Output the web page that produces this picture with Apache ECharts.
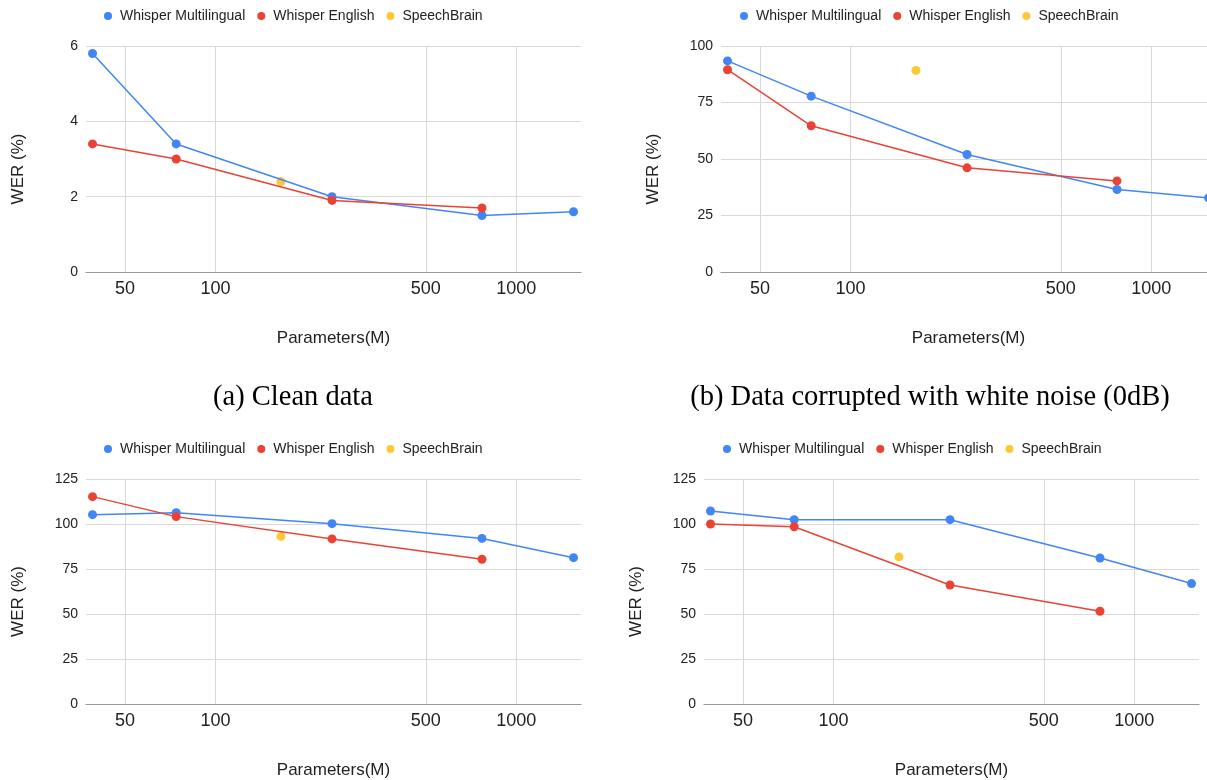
<!DOCTYPE html>
<html>
<head>
<meta charset="utf-8">
<script src="https://cdn.jsdelivr.net/npm/echarts@6/dist/echarts.min.js"></script>
<style>
  html, body { margin: 0; padding: 0; background: #fff; }
  #chart { width: 1207px; height: 780px; }
</style>
</head>
<body>
<div id="chart"></div>
<script>
// Model sizes (M parameters)
const multiParams = [39, 74, 244, 769, 1550];
const englishParams = [39, 74, 244, 769];
const speechBrainParams = [165];
const xTicks = [50, 100, 500, 1000];

// WER (%) per panel
const cleanMulti = [5.8, 3.4, 2.0, 1.5, 1.6];
const cleanEnglish = [3.4, 3.0, 1.9, 1.7];
const cleanSpeechBrain = [2.4];

const whiteMulti = [93.4, 77.8, 52.0, 36.5, 32.8];
const whiteEnglish = [89.5, 64.7, 46.1, 40.3];
const whiteSpeechBrain = [89.2];

const cMulti = [105.2, 106.3, 100.2, 92.0, 81.3];
const cEnglish = [115.2, 104.1, 91.7, 80.4];
const cSpeechBrain = [93.1];

const dMulti = [107.2, 102.4, 102.4, 81.1, 66.9];
const dEnglish = [100.0, 98.5, 66.1, 51.5];
const dSpeechBrain = [81.7];

const seriesNames = ['Whisper Multilingual', 'Whisper English', 'SpeechBrain'];
const colors = ['#4285F4', '#EA4335', '#FBBC04'];

const panels = [
    { left: 86, top: 46, height: 226, yMax: 6, yStep: 2, legendLeft: 104,
      data: [cleanMulti, cleanEnglish, cleanSpeechBrain] },
    { left: 721, top: 46, height: 226, yMax: 100, yStep: 25, legendLeft: 740,
      data: [whiteMulti, whiteEnglish, whiteSpeechBrain] },
    { left: 86, top: 479, height: 225, yMax: 125, yStep: 25, legendLeft: 104,
      data: [cMulti, cEnglish, cSpeechBrain] },
    { left: 704, top: 479, height: 225, yMax: 125, yStep: 25, legendLeft: 723,
      data: [dMulti, dEnglish, dSpeechBrain] }
];

const sans = 'Liberation Sans, Arial, sans-serif';
const serif = 'Liberation Serif, Times New Roman, serif';
const pair = (xs, ys) => xs.map((x, i) => [x, ys[i]]);

const grid = [];
const xAxis = [];
const yAxis = [];
const legend = [];
const series = [];
const graphic = [];

panels.forEach((p, i) => {
    // panel (b) runs past the right edge of the page, so no clamping
    grid.push({ left: p.left, top: p.top, width: 495, height: p.height, outerBoundsMode: 'none', containLabel: false });

    xAxis.push({
        type: 'log',
        gridIndex: i,
        min: 37.1,
        max: 1641,
        axisLine: { show: true, lineStyle: { color: '#999', width: 1.2 } },
        axisTick: { show: false, customValues: xTicks },
        axisLabel: {
            customValues: xTicks,
            formatter: v => String(v),
            fontSize: 18, color: '#222', margin: 8, fontFamily: sans
        },
        splitLine: { show: true, lineStyle: { color: '#d9d9d9', width: 1 } },
        minorTick: { show: false },
        minorSplitLine: { show: false }
    });

    yAxis.push({
        type: 'value',
        gridIndex: i,
        min: 0,
        max: p.yMax,
        interval: p.yStep,
        axisLine: { show: false },
        axisTick: { show: false },
        axisLabel: { fontSize: 14, color: '#222', margin: 8, fontFamily: sans },
        splitLine: { lineStyle: { color: '#d9d9d9', width: 1 } }
    });

    legend.push({
        data: seriesNames,
        left: p.legendLeft,
        top: 9 + (i >= 2 ? 433 : 0),
        padding: 0,
        icon: 'circle',
        itemWidth: 8,
        itemHeight: 8,
        itemGap: 12,
        textStyle: { fontSize: 14, color: '#222', fontFamily: sans, padding: [0, 0, 0, 3] }
    });

    series.push(
        {
            name: seriesNames[0], type: 'line', xAxisIndex: i, yAxisIndex: i,
            data: pair(multiParams, p.data[0]),
            symbol: 'circle', symbolSize: 9, color: colors[0],
            lineStyle: { width: 1.5 }
        },
        {
            name: seriesNames[1], type: 'line', xAxisIndex: i, yAxisIndex: i,
            data: pair(englishParams, p.data[1]),
            symbol: 'circle', symbolSize: 9, color: colors[1],
            lineStyle: { width: 1.5 }
        },
        {
            name: seriesNames[2], type: 'scatter', xAxisIndex: i, yAxisIndex: i,
            data: pair(speechBrainParams, p.data[2]),
            symbol: 'circle', symbolSize: 9, color: colors[2]
        }
    );

    // axis titles
    graphic.push({
        type: 'text',
        x: p.left - 67.5,
        y: p.top + p.height / 2 + 10,
        rotation: Math.PI / 2,
        style: { text: 'WER (%)', font: '17px ' + sans, fill: '#222', align: 'center', verticalAlign: 'middle' }
    });
    graphic.push({
        type: 'text',
        x: p.left + 247.5,
        y: p.top + p.height + 66,
        style: { text: 'Parameters(M)', font: '17px ' + sans, fill: '#222', align: 'center', verticalAlign: 'middle' }
    });
});

// sub-figure captions
graphic.push(
    {
        type: 'text', x: 293, y: 398,
        style: { text: '(a) Clean data', font: '28.5px ' + serif, fill: '#000', align: 'center', verticalAlign: 'middle' }
    },
    {
        type: 'text', x: 930, y: 398,
        style: { text: '(b) Data corrupted with white noise (0dB)', font: '28.5px ' + serif, fill: '#000', align: 'center', verticalAlign: 'middle' }
    }
);

const chart = echarts.init(document.getElementById('chart'));
chart.setOption({
    animation: false,
    backgroundColor: '#fff',
    grid,
    xAxis,
    yAxis,
    legend,
    series,
    graphic
});
</script>
</body>
</html>
